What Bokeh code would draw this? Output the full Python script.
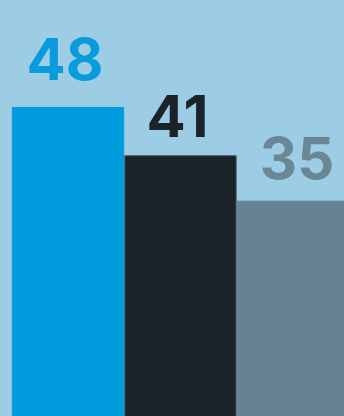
from bokeh.plotting import figure
from bokeh.models import ColumnDataSource, Range1d
from bokeh.core.properties import value
from bokeh.embed import file_html
from bokeh.resources import INLINE

categories = ["A", "B", "C"]
values = [48.0, 41.3, 35.0]
labels = ["48", "41", "35"]

bar_colors = ["#009bdd", "#1b2229", "#668393"]
line_colors = ["#009bdd", "#46545f", "#668393"]
label_colors = ["#0a9bdc", "#1b2229", "#6a8796"]
label_dx = [-3, -3, 4]
label_dy = [-48, -40, -43]

xs = list(range(len(categories)))
src = ColumnDataSource(dict(x=xs, top=values, label=labels, color=bar_colors,
                            lcolor=line_colors, tcolor=label_colors,
                            dx=label_dx, dy=label_dy))

p = figure(width=344, height=416, output_backend="svg", toolbar_location=None,
           x_range=Range1d(-0.6, 2.458), y_range=Range1d(5.13, 62.84),
           min_border=0, background_fill_color="#9dcde4",
           border_fill_color="#9dcde4", outline_line_color=None)
p.styles = {"background-color": "#9dcde4"}
p.axis.visible = False
p.grid.visible = False

p.vbar(x="x", top="top", bottom=0, width=0.99, fill_color="color",
       line_color="lcolor", line_width=1, source=src)
p.text(x="x", y="top", text="label", x_offset="dx", y_offset="dy",
       text_color="tcolor", text_font=value("Inter"),
       text_font_style="bold", text_font_size="58px", text_align="center",
       text_baseline="alphabetic", source=src)

open("out.html", "w").write(file_html(p, INLINE))
